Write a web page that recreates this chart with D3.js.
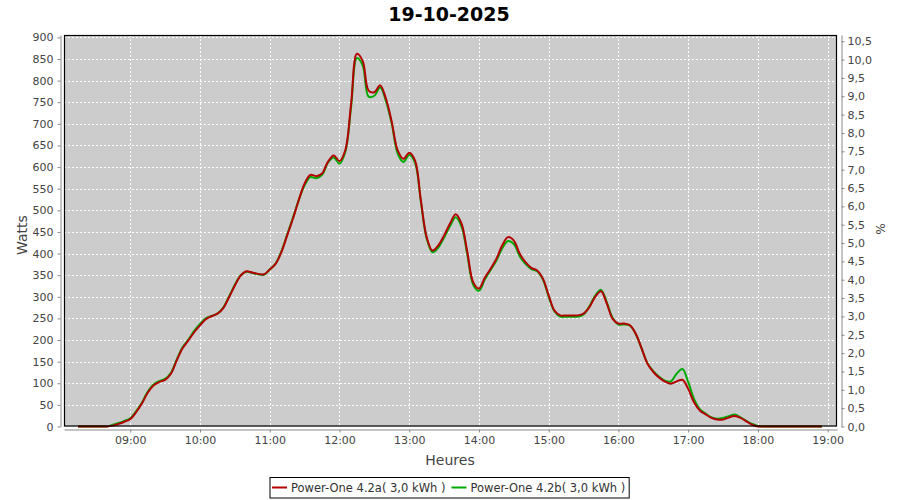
<!DOCTYPE html>
<html>
<head>
<meta charset="utf-8">
<script src="https://cdn.jsdelivr.net/npm/d3@7"></script>
<style>
  body { margin: 0; background: #fff; }
  text { font-family: "DejaVu Sans", sans-serif; }
  .axis path, .axis line { stroke: #888; }
  .axis text { fill: #444; font-size: 11px; }
  .grid line { stroke: #fff; stroke-dasharray: 2,2; }
</style>
</head>
<body>
<div id="content"></div>
<script>

var times = [
  "08:15","08:20","08:25","08:30","08:35","08:40","08:45","08:50","08:55",
  "09:00","09:05","09:10","09:15","09:20","09:25","09:30","09:35","09:40","09:45","09:50","09:55",
  "10:00","10:05","10:10","10:15","10:20","10:25","10:30","10:35","10:40","10:45","10:50","10:55",
  "11:00","11:05","11:10","11:15","11:20","11:25","11:30","11:35","11:40","11:45","11:50","11:55",
  "12:00","12:05","12:10","12:15","12:20","12:25","12:30","12:35","12:40","12:45","12:50","12:55",
  "13:00","13:05","13:10","13:15","13:20","13:25","13:30","13:35","13:40","13:45","13:50","13:55",
  "14:00","14:05","14:10","14:15","14:20","14:25","14:30","14:35","14:40","14:45","14:50","14:55",
  "15:00","15:05","15:10","15:15","15:20","15:25","15:30","15:35","15:40","15:45","15:50","15:55",
  "16:00","16:05","16:10","16:15","16:20","16:25","16:30","16:35","16:40","16:45","16:50","16:55",
  "17:00","17:05","17:10","17:15","17:20","17:25","17:30","17:35","17:40","17:45","17:50","17:55",
  "18:00","18:05","18:10","18:15","18:20","18:25","18:30","18:35","18:40","18:45","18:50","18:55"
];

// Power-One 4.2a (red)
var powerA = [
  0,0,0,0,0,0,2,6,11,
  17,33,53,78,95,103,108,122,153,181,199,218,
  234,248,255,261,274,299,326,349,359,356,353,352,
  363,376,403,442,481,524,562,582,579,585,612,627,
  614,639,747,862,845,777,773,789,758,704,639,619,
  633,615,523,438,407,419,442,469,491,469,403,334,
  319,344,365,388,419,438,430,400,380,367,361,342,
  303,268,257,257,257,257,261,276,300,313,284,249,
  238,238,234,214,180,145,126,113,104,99,104,108,
  87,56,37,28,20,16,16,21,24,20,12,4,
  0,0,0,0,0,0,0,0,0,0,0,0
];

// Power-One 4.2b (green)
var powerB = [
  0,0,0,0,0,0,4,8,13,
  19,35,55,80,97,105,110,124,155,183,201,221,
  237,250,256,261,275,301,328,350,358,355,352,351,
  363,377,405,444,483,524,558,577,574,582,610,622,
  608,635,740,852,835,763,765,784,752,700,632,612,
  628,610,520,435,403,414,437,463,484,462,397,328,
  314,340,362,384,412,429,422,394,376,364,359,340,
  300,266,254,254,254,254,259,278,303,316,287,251,
  236,236,233,213,180,146,128,115,106,104,122,133,
  103,64,40,30,21,18,20,24,28,21,13,6,
  1,0,0,0,0,0,0,0,0,0,0,0
];

var seriesNames = ["Power-One 4.2a( 3,0 kWh )", "Power-One 4.2b( 3,0 kWh )"];
var seriesColors = ["#b40000", "#00aa00"];
var title = "19-10-2025";

var width = 900, height = 500;
var plotLeft = 64, plotRight = 837, plotTop = 35, plotBottom = 426.5;

var svg = d3.select("#content").append("svg")
    .attr("width", width).attr("height", height);

var parse = d3.timeParse("%Y-%m-%d %H:%M");
var dates = times.map(function(t) { return parse("2025-10-19 " + t); });

var x = d3.scaleTime()
    .domain([parse("2025-10-19 08:03"), parse("2025-10-19 19:08")])
    .range([plotLeft, plotRight]);

var y = d3.scaleLinear().domain([0, 905.5]).range([plotBottom, plotTop]);
var y2 = d3.scaleLinear().domain([0, 10.67]).range([plotBottom, plotTop]);

// plot background
svg.append("rect")
    .attr("x", plotLeft).attr("y", plotTop)
    .attr("width", plotRight - plotLeft).attr("height", plotBottom - plotTop)
    .attr("fill", "#cccccc");

// gridlines
var grid = svg.append("g").attr("class", "grid");
grid.selectAll("line.h")
    .data(d3.range(50, 901, 50))
    .enter().append("line")
    .attr("x1", plotLeft).attr("x2", plotRight)
    .attr("y1", function(d) { return Math.round(y(d)) + 0.5; })
    .attr("y2", function(d) { return Math.round(y(d)) + 0.5; });
grid.selectAll("line.v")
    .data(x.ticks(d3.timeHour.every(1)))
    .enter().append("line")
    .attr("y1", plotTop).attr("y2", plotBottom)
    .attr("x1", function(d) { return Math.round(x(d)) + 0.5; })
    .attr("x2", function(d) { return Math.round(x(d)) + 0.5; });

// lines
var line = function(vals) {
  return d3.line()
    .x(function(d, i) { return x(dates[i]); })
    .y(function(d) { return y(d); })
    .curve(d3.curveCatmullRom.alpha(0.5))(vals);
};

svg.append("path").attr("d", line(powerB))
    .attr("fill", "none").attr("stroke", seriesColors[1]).attr("stroke-width", 2);
svg.append("path").attr("d", line(powerA))
    .attr("fill", "none").attr("stroke", seriesColors[0]).attr("stroke-width", 2);

// plot border
svg.append("rect")
    .attr("x", plotLeft + 0.5).attr("y", plotTop + 0.5)
    .attr("width", plotRight - plotLeft - 1).attr("height", plotBottom - plotTop - 1)
    .attr("fill", "none").attr("stroke", "#000").attr("stroke-width", 1.2);

// axes
svg.append("g").attr("class", "axis")
    .attr("transform", "translate(60.5,0)")
    .call(d3.axisLeft(y).tickValues(d3.range(0, 901, 50)).tickSize(3).tickSizeOuter(0).tickPadding(4));

svg.append("g").attr("class", "axis")
    .attr("transform", "translate(0,429.5)")
    .call(d3.axisBottom(x).ticks(d3.timeHour.every(1)).tickFormat(d3.timeFormat("%H:%M"))
      .tickSize(3).tickSizeOuter(0).tickPadding(4));

var fmt = function(d) { return d3.format(".1f")(d).replace(".", ","); };
svg.append("g").attr("class", "axis")
    .attr("transform", "translate(841.5,0)")
    .call(d3.axisRight(y2).tickValues(d3.range(0, 21.1, 1).map(function(v) { return v / 2; }))
      .tickFormat(fmt).tickSize(3).tickSizeOuter(0).tickPadding(3));

svg.selectAll(".axis .domain").attr("stroke", "#888");

// titles
svg.append("text")
    .attr("x", 449).attr("y", 21)
    .attr("text-anchor", "middle")
    .style("font-size", "19px").style("font-weight", "bold")
    .attr("fill", "#000")
    .text(title);

svg.append("text")
    .attr("transform", "translate(27,235) rotate(-90)")
    .attr("text-anchor", "middle")
    .style("font-size", "14px").attr("fill", "#444")
    .text("Watts");

svg.append("text")
    .attr("x", 450).attr("y", 465)
    .attr("text-anchor", "middle")
    .style("font-size", "14px").attr("fill", "#444")
    .text("Heures");

svg.append("text")
    .attr("transform", "translate(876,229) rotate(90)")
    .attr("text-anchor", "middle")
    .style("font-size", "12px").attr("fill", "#444")
    .text("%");

// legend
var legend = svg.append("g");
var box = legend.append("rect")
    .attr("y", 477.5).attr("height", 20.5)
    .attr("fill", "#fff").attr("stroke", "#000");
var xpos = 0;
seriesNames.forEach(function(name, i) {
  legend.append("line")
      .attr("x1", xpos + 2).attr("x2", xpos + 17)
      .attr("y1", 487.5).attr("y2", 487.5)
      .attr("stroke", seriesColors[i]).attr("stroke-width", 2);
  var t = legend.append("text")
      .attr("x", xpos + 21).attr("y", 491.5)
      .style("font-size", "11.5px").attr("fill", "#333")
      .text(name);
  xpos += 21 + t.node().getComputedTextLength() + 4;
});
var legendW = xpos;
box.attr("x", 0).attr("width", legendW);
legend.attr("transform", "translate(" + Math.round(450 - legendW / 2) + ",0)");

</script>
</body>
</html>
